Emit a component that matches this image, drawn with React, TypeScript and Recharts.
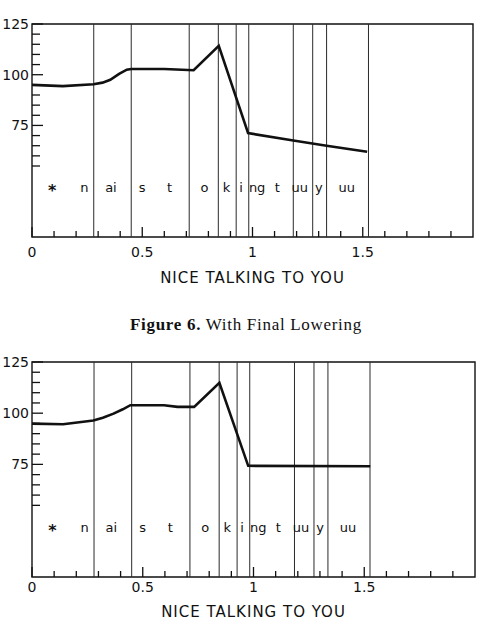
import { ComposedChart, Line, Scatter, XAxis, YAxis, ReferenceLine, ReferenceArea, Label } from 'recharts'

// time (s) and f0 for the two contours
const timeTop = [0, 0.14, 0.279, 0.32, 0.355, 0.395, 0.43, 0.45, 0.6, 0.733, 0.847, 0.98, 1.185, 1.336, 1.52]
const f0Top = [95.0, 94.4, 95.3, 96.1, 97.5, 100.4, 102.5, 102.8, 102.8, 102.2, 114.2, 71.2, 67.6, 65.0, 62.0]

const timeBottom = [0, 0.14, 0.277, 0.32, 0.368, 0.41, 0.444, 0.596, 0.657, 0.732, 0.846, 0.976, 1.527]
const f0Bottom = [94.9, 94.6, 96.4, 97.8, 99.8, 101.9, 103.9, 103.9, 103.1, 103.1, 114.8, 74.3, 74.1]

// phone segments
const boundaries = [0.28, 0.45, 0.713, 0.845, 0.926, 0.983, 1.185, 1.273, 1.336, 1.526]
const phones = ['*', 'n', 'ai', 's', 't', 'o', 'k', 'i', 'ng', 't', 'uu', 'y', 'uu']
const phoneTimes = [0.092, 0.238, 0.358, 0.5, 0.624, 0.782, 0.882, 0.948, 1.021, 1.112, 1.214, 1.301, 1.427]
const phoneLevel = 44

// axes
const xDomain = [0, 2]
const yDomain = [20, 125]
const xTicks = [0, 0.1, 0.2, 0.3, 0.4, 0.5, 0.6, 0.7, 0.8, 0.9, 1, 1.1, 1.2, 1.3, 1.4, 1.5, 1.6, 1.7, 1.8, 1.9]
const xLabelTicks = [0, 0.5, 1, 1.5]
const xLabels = ['0', '0.5', '1', '1.5']
const yTicks = [55, 60, 65, 70, 75, 80, 85, 90, 95, 100, 105, 110, 115, 120, 125]
const yLabelTicks = [75, 100, 125]

const INK = '#111'
const SANS = '"DejaVu Sans", sans-serif'

const phoneData = phones.map((text, i) => ({ t: phoneTimes[i], v: phoneLevel, text }))

function XTick(props: any) {
  const { x, y, payload, labelDy } = props
  const idx = xLabelTicks.indexOf(payload.value)
  const major = idx >= 0
  return (
    <g>
      <line x1={x} x2={x} y1={y} y2={y - (major ? 10 : 6)} stroke={INK} strokeWidth={1.3} />
      {major && (
        <text x={x} y={y + labelDy} textAnchor="middle" fontSize={14} fontFamily={SANS} fill={INK}>
          {xLabels[idx]}
        </text>
      )}
    </g>
  )
}

function YTick(props: any) {
  const { x, y, payload } = props
  const major = yLabelTicks.includes(payload.value)
  return (
    <g>
      <line x1={x} x2={x + (major ? 11 : 8)} y1={y} y2={y} stroke={INK} strokeWidth={1.3} />
      {major && (
        <text x={x - 3} y={y + 5} textAnchor="end" fontSize={14} fontFamily={SANS} fill={INK}>
          {payload.value}
        </text>
      )}
    </g>
  )
}

function PhoneLabel(props: any) {
  const { cx, cy, payload } = props
  const star = payload.text === '*'
  return (
    <text
      x={cx}
      y={cy + (star ? 8 : 4)}
      textAnchor="middle"
      fontSize={star ? 16 : 13}
      fontWeight={star ? 'bold' : 'normal'}
      fontFamily={SANS}
      fill={INK}
    >
      {payload.text}
    </text>
  )
}

interface PanelProps {
  times: number[]
  values: number[]
  height: number
  marginTop: number
  marginRight: number
  axisHeight: number
  labelDy: number
  titleOffset: number
}

function PitchPanel({ times, values, height, marginTop, marginRight, axisHeight, labelDy, titleOffset }: PanelProps) {
  const contour = times.map((t, i) => ({ t, v: values[i] }))
  return (
    <ComposedChart width={484} height={height} margin={{ top: marginTop, right: marginRight, bottom: 0, left: 0 }}>
      <XAxis
        type="number"
        dataKey="t"
        domain={xDomain}
        ticks={xTicks}
        interval={0}
        height={axisHeight}
        axisLine={false}
        tickLine={false}
        tickSize={0}
        tickMargin={0}
        tick={(p: any) => <XTick {...p} labelDy={labelDy} />}
      >
        <Label
          value="NICE TALKING TO YOU"
          position="insideBottom"
          offset={titleOffset}
          fontSize={15}
          fontFamily={SANS}
          fill={INK}
          letterSpacing={1}
        />
      </XAxis>
      <YAxis
        type="number"
        dataKey="v"
        domain={yDomain}
        ticks={yTicks}
        interval={0}
        width={32}
        axisLine={false}
        tickLine={false}
        tickSize={0}
        tickMargin={0}
        tick={(p: any) => <YTick {...p} />}
      />
      {boundaries.map((b, i) => (
        <ReferenceLine key={i} x={b} stroke="#2a2a2a" strokeWidth={1} />
      ))}
      <ReferenceArea x1={xDomain[0]} x2={xDomain[1]} y1={yDomain[0]} y2={yDomain[1]} fill="none" stroke={INK} strokeWidth={1.4} />
      <Line
        data={contour}
        dataKey="v"
        type="linear"
        stroke={INK}
        strokeWidth={2.6}
        dot={false}
        isAnimationActive={false}
      />
      <Scatter data={phoneData} dataKey="v" shape={(p: any) => <PhoneLabel {...p} />} isAnimationActive={false} />
    </ComposedChart>
  )
}

export default function App() {
  return (
    <div style={{ position: 'absolute', left: 0, top: 0, width: 484, height: 624, background: '#fff' }}>
      <div style={{ position: 'absolute', left: 0, top: 0 }}>
        <PitchPanel
          times={timeTop}
          values={f0Top}
          height={300}
          marginTop={24}
          marginRight={11}
          axisHeight={63}
          labelDy={20}
          titleOffset={17}
        />
      </div>
      <div
        style={{
          position: 'absolute',
          left: 130,
          top: 316,
          fontFamily: '"Liberation Serif", serif',
          fontSize: 17,
          lineHeight: '17px',
          letterSpacing: 0.7,
          color: INK,
          whiteSpace: 'nowrap',
        }}
      >
        <b>Figure 6.</b> With Final Lowering
      </div>
      <div style={{ position: 'absolute', left: 0, top: 300 }}>
        <PitchPanel
          times={timeBottom}
          values={f0Bottom}
          height={324}
          marginTop={62}
          marginRight={9}
          axisHeight={47}
          labelDy={15}
          titleOffset={7}
        />
      </div>
    </div>
  )
}
